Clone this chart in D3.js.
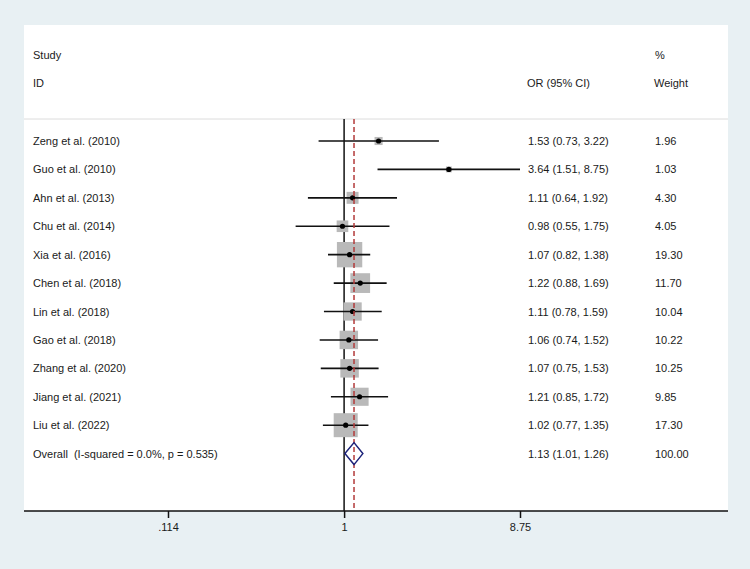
<!doctype html>
<html>
<head>
<script src="https://cdnjs.cloudflare.com/ajax/libs/d3/7.8.5/d3.min.js"></script>
<style>
  body { margin:0; background:#e8f0f3; }
  text { font-family: "Liberation Sans", Arial, sans-serif; font-size:11px; fill:#1a1a1a; white-space:pre; }
</style>
</head>
<body>
<svg id="chart" width="750" height="569"></svg>
<script>
// study data
var studies = ["Zeng et al. (2010)","Guo et al. (2010)","Ahn et al. (2013)","Chu et al. (2014)","Xia et al. (2016)",
  "Chen et al. (2018)","Lin et al. (2018)","Gao et al. (2018)","Zhang et al. (2020)","Jiang et al. (2021)","Liu et al. (2022)"];
var or    = [1.53, 3.64, 1.11, 0.98, 1.07, 1.22, 1.11, 1.06, 1.07, 1.21, 1.02];
var lower = [0.73, 1.51, 0.64, 0.55, 0.82, 0.88, 0.78, 0.74, 0.75, 0.85, 0.77];
var upper = [3.22, 8.75, 1.92, 1.75, 1.38, 1.69, 1.59, 1.52, 1.53, 1.72, 1.35];
var weights = ["1.96","1.03","4.30","4.05","19.30","11.70","10.04","10.22","10.25","9.85","17.30"];
var overall = {label:"Overall  (I-squared = 0.0%, p = 0.535)", or:1.13, lo:1.01, hi:1.26, weight:"100.00"};
var tickVals = [0.114, 1, 8.75];
var tickLabels = [".114", "1", "8.75"];

var svg = d3.select("#chart");

// white plot panel
svg.append("rect").attr("x",24).attr("y",25).attr("width",704).attr("height",486).attr("fill","#fff");
svg.append("line").attr("x1",24).attr("x2",728).attr("y1",119).attr("y2",119)
  .attr("stroke","#dcdcdc").attr("stroke-width",1);

var x = d3.scaleLog().domain([0.114, 8.75]).range([168, 520]);
var rows = studies.concat(["overall"]);
var y = d3.scalePoint().domain(d3.range(rows.length)).range([141, 453.6]);
var side = d3.scaleSqrt().domain([0, 17.3]).range([0, 24]);

function fmt(v){ return d3.format(".2f")(v); }

// headers
svg.append("text").attr("x",33).attr("y",59).text("Study");
svg.append("text").attr("x",33).attr("y",87).text("ID");
svg.append("text").attr("x",527).attr("y",87).text("OR (95% CI)");
svg.append("text").attr("x",655).attr("y",59).text("%");
svg.append("text").attr("x",654).attr("y",87).text("Weight");

// null line
svg.append("line").attr("x1",x(1)).attr("x2",x(1)).attr("y1",119).attr("y2",511)
  .attr("stroke","#111").attr("stroke-width",1.5);

var g = svg.append("g");
studies.forEach(function(s, i){
  var cy = y(i);
  var sz = side(+weights[i]);
  g.append("rect").attr("x",x(or[i])-sz/2).attr("y",cy-sz/2).attr("width",sz).attr("height",sz)
    .attr("fill","#b9b9b9");
  g.append("line").attr("x1",x(lower[i])).attr("x2",x(upper[i])).attr("y1",cy).attr("y2",cy)
    .attr("stroke","#111").attr("stroke-width",1.6);
  g.append("circle").attr("cx",x(or[i])).attr("cy",cy).attr("r",2.6).attr("fill","#000");
  svg.append("text").attr("x",33).attr("y",cy+4).text(s);
  svg.append("text").attr("x",528).attr("y",cy+4)
    .text(fmt(or[i])+" ("+fmt(lower[i])+", "+fmt(upper[i])+")");
  svg.append("text").attr("x",655).attr("y",cy+4).text(weights[i]);
});

// overall effect line
svg.append("line").attr("x1",x(overall.or)).attr("x2",x(overall.or)).attr("y1",119).attr("y2",511)
  .attr("stroke","#b23a3a").attr("stroke-width",1.5).attr("stroke-dasharray","5,3");

var oy = y(rows.length-1);
svg.append("path")
  .attr("d","M"+x(overall.lo)+","+oy+"L"+x(overall.or)+","+(oy-11)+"L"+x(overall.hi)+","+oy+"L"+x(overall.or)+","+(oy+11)+"Z")
  .attr("fill","none").attr("stroke","#1c237a").attr("stroke-width",1.5);
svg.append("text").attr("x",33).attr("y",oy+4).text(overall.label);
svg.append("text").attr("x",528).attr("y",oy+4)
  .text(fmt(overall.or)+" ("+fmt(overall.lo)+", "+fmt(overall.hi)+")");
svg.append("text").attr("x",655).attr("y",oy+4).text(overall.weight);

// x axis
var axis = d3.axisBottom(x).tickValues(tickVals).tickFormat(function(d,i){ return tickLabels[i]; })
  .tickSize(7).tickPadding(5);
var ax = svg.append("g").attr("transform","translate(0,511)").call(axis);
ax.select(".domain").remove();
ax.selectAll(".tick line").attr("stroke","#111").attr("stroke-width",1.5);
ax.selectAll(".tick text").attr("font-size","11px").attr("font-family","Liberation Sans, Arial, sans-serif").attr("fill","#1a1a1a");
svg.append("line").attr("x1",24).attr("x2",728).attr("y1",511).attr("y2",511)
  .attr("stroke","#111").attr("stroke-width",1.5);
</script>
</body>
</html>
